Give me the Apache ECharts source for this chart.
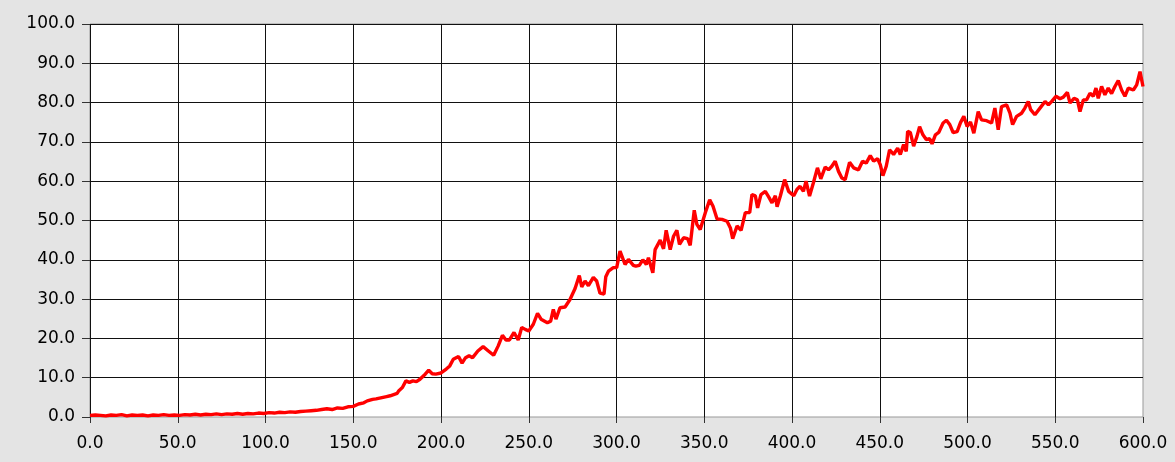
<!DOCTYPE html>
<html>
<head>
<meta charset="utf-8">
<script src="https://cdn.jsdelivr.net/npm/echarts@6/dist/echarts.min.js"></script>
<style>
  html, body { margin: 0; padding: 0; background: #e4e4e4; }
  #chart { width: 1175px; height: 462px; }
</style>
</head>
<body>
<div id="chart"></div>
<script>
// x positions (time) and y readings of the red trace
var xValues = [
  0, 3, 6, 9, 12, 15, 18, 21, 24, 27, 30, 33, 36, 39, 42, 45, 48, 51, 54, 57,
  60, 63, 66, 69, 72, 75, 78, 81, 84, 87, 90, 93, 96, 99, 102, 105, 108, 111, 114, 117,
  120, 123, 126, 129, 132, 135, 138, 141, 144, 147, 150, 153, 156, 158, 161, 163, 165, 167, 169, 171,
  173, 175, 176, 178, 180, 182, 184, 186, 188, 191, 193, 195, 197, 200, 203, 205, 207, 210, 212, 214,
  216, 218, 221, 224, 227, 230, 232.6, 235, 237, 239, 241.6, 244, 246, 248, 250, 252.6, 255, 257, 260.6, 262.5,
  264, 265.5, 267.8, 270.7, 273.5, 276.4, 278.8, 280.2, 282.1, 284, 286.8, 288.7, 290.6, 292.9, 293.9, 295.4, 298.2, 300.1, 302, 304.9,
  306.8, 309.6, 311, 313, 315, 317, 318.2, 320.7, 322, 324.9, 326.8, 328.3, 330.6, 332.5, 334.4, 335.9, 338.2, 340.5, 342, 344.3,
  345.8, 347.7, 350.6, 353.1, 355, 357.3, 360.1, 363, 364.9, 366.2, 368.7, 371, 373.4, 375.9, 377.2, 379.1, 380.4, 382.3, 384.8, 386.7,
  388.6, 390.5, 391.5, 393.4, 395.8, 398.1, 401, 402.8, 404.6, 406.5, 408, 410, 412.2, 414.5, 416.4, 418.9, 420.8, 422.7, 424.6, 426.5,
  428.4, 430.3, 432.8, 435.1, 437.9, 440.2, 442.3, 444.6, 446.5, 448.8, 450.3, 451.8, 453.7, 455.6, 457.9, 460.2, 461.7, 463.6, 465.1, 465.9,
  467.4, 469.3, 471.2, 472.7, 474.6, 476.5, 478.4, 479.8, 481.7, 483.6, 486.1, 488, 489.9, 491.8, 494.1, 496, 497.9, 499.8, 501.7, 503.6,
  506.1, 508, 510.9, 513.7, 515.6, 517.5, 519.4, 520.4, 522.3, 524.2, 525.7, 528, 530.8, 532.7, 534.6, 536, 538.4, 541.3, 544.2, 546.1,
  548, 550.4, 552.7, 554.6, 556.9, 558.4, 560.7, 562.6, 564.1, 566, 567.9, 569.8, 571.7, 573.2, 574.5, 576.4, 578.3, 580.2, 582.1, 584,
  585.9, 587.8, 589.7, 591.6, 594.5, 596.4, 598.3, 600
];
var yValues = [
  0.4, 0.5, 0.4, 0.3, 0.5, 0.4, 0.6, 0.3, 0.5, 0.4, 0.5, 0.3, 0.5, 0.4, 0.6, 0.4, 0.5, 0.4, 0.6, 0.5,
  0.7, 0.5, 0.7, 0.6, 0.8, 0.6, 0.8, 0.7, 0.9, 0.7, 0.9, 0.8, 1.0, 0.9, 1.1, 1.0, 1.2, 1.1, 1.3, 1.2,
  1.4, 1.5, 1.6, 1.7, 1.9, 2.1, 1.9, 2.3, 2.2, 2.6, 2.7, 3.3, 3.6, 4.1, 4.5, 4.6, 4.8, 5.0, 5.2, 5.4,
  5.7, 6.0, 6.7, 7.5, 9.2, 8.8, 9.2, 9.0, 9.6, 10.9, 11.9, 11.0, 10.9, 11.2, 12.2, 13.0, 14.7, 15.4, 13.7, 15.1,
  15.6, 15.1, 16.8, 17.9, 16.8, 15.7, 18.1, 20.8, 19.6, 19.6, 21.5, 19.6, 22.8, 22.3, 21.9, 23.6, 26.4, 24.9, 24.0, 24.4,
  27.4, 24.9, 27.8, 28.0, 29.9, 32.7, 36.0, 33.1, 34.6, 33.4, 35.5, 34.6, 31.5, 31.3, 35.7, 37.1, 38.0, 38.0, 42.2, 38.8,
  40.1, 38.6, 38.4, 38.6, 40.0, 38.8, 40.5, 36.7, 42.6, 45.0, 42.8, 47.5, 42.6, 46.0, 47.5, 43.9, 45.6, 45.4, 43.7, 52.6,
  49.0, 47.7, 52.0, 55.3, 53.6, 50.4, 50.3, 49.8, 48.1, 45.4, 48.6, 47.5, 52.0, 52.0, 56.6, 56.3, 53.2, 56.6, 57.4, 56.0,
  54.5, 56.3, 53.5, 56.3, 60.4, 57.4, 56.3, 57.9, 58.7, 57.4, 60.0, 56.2, 59.6, 63.4, 60.6, 63.6, 62.9, 63.8, 65.1, 62.5,
  60.8, 60.4, 64.8, 63.4, 62.9, 65.1, 64.6, 66.5, 65.1, 65.7, 64.2, 61.4, 63.8, 68.0, 66.8, 68.4, 66.8, 69.3, 67.6, 72.7,
  72.4, 68.9, 71.4, 73.9, 71.8, 70.6, 70.8, 69.5, 71.8, 72.4, 74.8, 75.5, 74.4, 72.4, 72.6, 74.9, 76.5, 73.9, 75.1, 72.2,
  77.7, 75.6, 75.4, 74.8, 78.6, 73.1, 79.0, 78.6, 79.4, 77.3, 74.4, 76.5, 77.3, 78.6, 80.3, 78.2, 76.9, 78.6, 80.3, 79.4,
  80.3, 81.6, 81.0, 81.4, 82.6, 79.9, 81.1, 80.7, 77.7, 80.7, 80.7, 82.4, 81.6, 83.7, 81.1, 84.1, 82.0, 83.7, 82.3, 84.1,
  85.6, 83.2, 81.6, 83.7, 83.2, 84.5, 87.9, 84.1
];
var xTicks = { min: 0, max: 600, step: 50 };
var yTicks = { min: 0, max: 100, step: 10 };

var points = xValues.map(function (x, i) { return [x, yValues[i]]; });

var chart = echarts.init(document.getElementById('chart'));

var labelStyle = {
  fontFamily: 'DejaVu Sans',
  fontSize: 17,
  color: '#000000',
  formatter: function (v) { return v.toFixed(1); }
};

chart.setOption({
  backgroundColor: '#e4e4e4',
  animation: false,
  grid: {
    left: 90, right: 32, top: 24, bottom: 45,
    show: true,
    backgroundColor: '#ffffff',
    borderColor: '#999999',
    borderWidth: 1
  },
  xAxis: {
    type: 'value',
    min: xTicks.min, max: xTicks.max, interval: xTicks.step,
    offset: 4,
    axisLine: { show: false },
    axisTick: { show: true, length: 6, lineStyle: { color: '#333', width: 1 } },
    axisLabel: Object.assign({ margin: 14 }, labelStyle),
    splitLine: { show: true, showMaxLine: false, lineStyle: { color: '#111', width: 1 } }
  },
  yAxis: {
    type: 'value',
    min: yTicks.min, max: yTicks.max, interval: yTicks.step,
    offset: 3,
    axisLine: { show: false },
    axisTick: { show: true, length: 8, lineStyle: { color: '#333', width: 1 } },
    axisLabel: Object.assign({ margin: 12 }, labelStyle),
    splitLine: { show: true, showMinLine: false, lineStyle: { color: '#111', width: 1 } }
  },
  series: [{
    type: 'line',
    data: points,
    showSymbol: false,
    symbol: 'none',
    lineStyle: { color: '#ff0000', width: 3.4 },
    z: 5
  }]
});
</script>
</body>
</html>
